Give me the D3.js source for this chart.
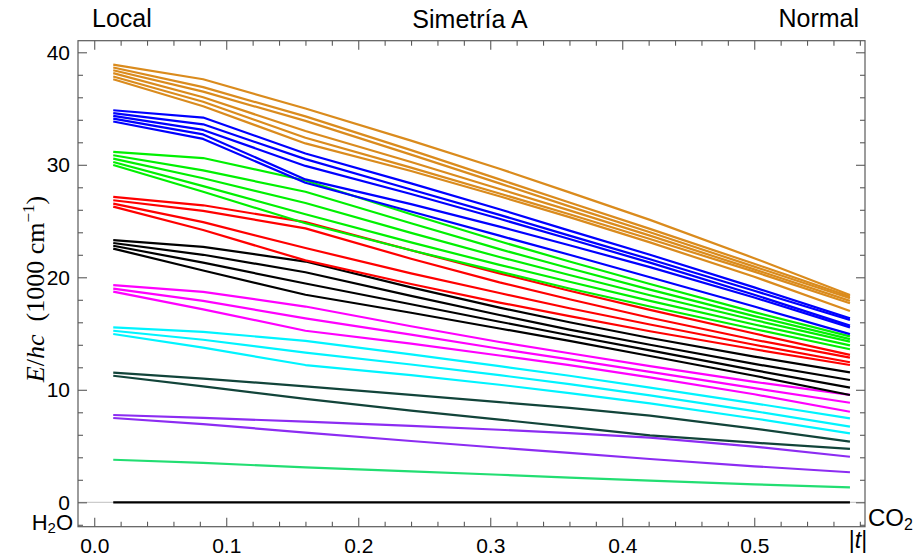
<!DOCTYPE html>
<html><head><meta charset="utf-8">
<script src="https://cdn.jsdelivr.net/npm/d3@7"></script>
<style>body{margin:0;background:#fff} svg{display:block;font-family:"Liberation Sans",Arial,sans-serif}</style>
</head><body><svg id="c" width="919" height="559"></svg>
<script>
// |t| sample positions
const tValues = [0.0144, 0.0825, 0.16, 0.24, 0.307, 0.36, 0.421, 0.5, 0.5725];
const xMajorTicks = [0, 0.1, 0.2, 0.3, 0.4, 0.5];
const xMinorTicks = [0.02,0.04,0.06,0.08,0.12,0.14,0.16,0.18,0.22,0.24,0.26,0.28,0.32,0.34,0.36,0.38,0.42,0.44,0.46,0.48,0.52,0.54,0.56,0.58];
const yMajorTicks = [0, 10, 20, 30, 40];
const yMinorTicks = [-2,2,4,6,8,12,14,16,18,22,24,26,28,32,34,36,38];

// E/hc (1000 cm^-1) levels, one row per level
const zeroLevels = [[0,0,0,0,0,0,0,0,0]];
const springLevels = [[3.78, 3.5, 3.1, 2.75, 2.45, 2.2, 1.92, 1.6, 1.33]];
const purpleLevels = [
  [7.76, 7.5, 7.17, 6.8, 6.45, 6.15, 5.75, 4.95, 4.05],
  [7.49, 6.95, 6.2, 5.45, 4.85, 4.4, 3.85, 3.2, 2.67]];
const darkGreenLevels = [
  [11.52, 11.0, 10.3, 9.55, 8.9, 8.4, 7.7, 6.55, 5.39],
  [11.25, 10.3, 9.2, 8.15, 7.35, 6.7, 5.95, 5.3, 4.74]];
const cyanLevels = [
  [15.55, 15.15, 14.35, 13.15, 12.1, 11.25, 10.2, 8.8, 7.46],
  [15.25, 14.45, 13.3, 12.25, 11.3, 10.5, 9.5, 8.1, 6.72],
  [14.96, 13.75, 12.2, 11.3, 10.45, 9.7, 8.8, 7.45, 6.13]];
const magentaLevels = [
  [19.3, 18.7, 17.4, 15.65, 14.25, 13.25, 12.1, 10.7, 9.54],
  [19.0, 17.9, 16.35, 14.9, 13.65, 12.7, 11.6, 10.15, 8.85],
  [18.72, 17.15, 15.25, 14.1, 13.05, 12.2, 11.1, 9.6, 8.05]];
const blackLevels = [
  [23.3, 22.7, 21.4, 19.1, 17.3, 16.0, 14.6, 12.95, 11.55],
  [23.05, 22.0, 20.45, 18.35, 16.65, 15.35, 14.0, 12.3, 10.87],
  [22.8, 21.3, 19.45, 17.6, 16.05, 14.85, 13.5, 11.75, 10.19],
  [22.55, 20.6, 18.45, 16.85, 15.45, 14.35, 13.0, 11.25, 9.54]];
const redLevels = [
  [27.15, 26.4, 24.9, 22.4, 20.35, 18.8, 17.1, 15.0, 13.1],
  [26.85, 25.9, 24.35, 21.65, 19.55, 18.05, 16.4, 14.45, 12.86],
  [26.55, 24.9, 22.6, 20.35, 18.6, 17.25, 15.8, 14.0, 12.45],
  [26.28, 24.2, 21.5, 19.4, 17.75, 16.55, 15.2, 13.6, 12.2]];
const greenLevels = [
  [31.15, 30.6, 28.6, 25.6, 23.2, 21.4, 19.4, 16.9, 14.75],
  [30.85, 29.5, 27.6, 24.8, 22.5, 20.8, 18.9, 16.55, 14.5],
  [30.55, 28.8, 26.6, 23.95, 21.8, 20.2, 18.4, 16.2, 14.28],
  [30.25, 28.1, 25.6, 23.1, 21.1, 19.6, 17.9, 15.8, 13.95],
  [29.98, 27.6, 24.8, 22.4, 20.5, 19.0, 17.4, 15.4, 13.6]];
const blueLevels = [
  [34.85, 34.2, 31.0, 28.35, 26.05, 24.15, 22.0, 19.1, 16.35],
  [34.6, 33.6, 30.5, 27.8, 25.55, 23.7, 21.6, 18.8, 16.2],
  [34.35, 33.1, 29.9, 27.4, 25.2, 23.4, 21.3, 18.45, 15.7],
  [34.1, 32.7, 28.7, 26.5, 24.5, 22.85, 20.9, 18.2, 15.55],
  [33.85, 32.3, 28.4, 25.85, 23.7, 22.0, 20.0, 17.4, 14.95]];
const orangeLevels = [
  [38.9, 37.6, 35.0, 32.15, 29.65, 27.55, 25.1, 21.7, 18.43],
  [38.65, 36.9, 34.3, 31.3, 28.7, 26.65, 24.3, 21.2, 18.28],
  [38.4, 36.5, 33.9, 30.9, 28.35, 26.3, 24.0, 20.95, 18.13],
  [38.15, 36.0, 33.0, 30.25, 27.85, 25.95, 23.7, 20.7, 17.9],
  [37.85, 35.6, 32.4, 29.75, 27.45, 25.6, 23.4, 20.5, 17.69],
  [37.6, 35.2, 31.9, 29.45, 27.2, 25.35, 23.1, 20.05, 17.0]];

const seriesList = [
  {levels: zeroLevels, color: "#000000"},
  {levels: springLevels, color: "#22de72"},
  {levels: purpleLevels, color: "#8c2cf2"},
  {levels: darkGreenLevels, color: "#12443a"},
  {levels: cyanLevels, color: "#00f4ff"},
  {levels: magentaLevels, color: "#ff00ff"},
  {levels: blackLevels, color: "#000000"},
  {levels: redLevels, color: "#ff0000"},
  {levels: greenLevels, color: "#00f000"},
  {levels: blueLevels, color: "#0000ff"},
  {levels: orangeLevels, color: "#da8b1d"}
];

const L = 78, R = 865, T = 40.7, B = 526.7;
const svg = d3.select("#c");
const x = d3.scaleLinear().domain([-0.0123, 0.5839]).range([L, R]);
const y = d3.scaleLinear().domain([-2.17, 41.03]).range([B, T]);
const frameColor = "#5a5a5a";

// light axis line at zero
svg.append("line").attr("x1", L).attr("x2", R).attr("y1", y(0)).attr("y2", y(0))
  .attr("stroke", "#cccccc").attr("stroke-width", 1.2);

const line = d3.line().x((d, i) => x(tValues[i])).y(d => y(d));
seriesList.forEach(s => {
  svg.append("g").selectAll("path").data(s.levels).join("path")
    .attr("d", line).attr("fill", "none").attr("stroke", s.color)
    .attr("stroke-width", 2.2).attr("stroke-linejoin", "round");
});

function styleAxis(g, labels) {
  g.select(".domain").remove();
  g.selectAll(".tick line").attr("stroke", frameColor).attr("stroke-width", 1.1);
  if (!labels) g.selectAll(".tick text").remove();
  else g.selectAll(".tick text").attr("fill", "#000").style("font-size", "21px")
        .style("font-family", '"Liberation Sans", Arial, sans-serif');
}
// bottom
svg.append("g").attr("transform", `translate(0,${B})`)
  .call(d3.axisBottom(x).tickValues(xMajorTicks).tickSize(-9).tickPadding(11).tickFormat(d3.format(".1f")))
  .call(g => styleAxis(g, true));
svg.append("g").attr("transform", `translate(0,${B})`)
  .call(d3.axisBottom(x).tickValues(xMinorTicks).tickSize(-5)).call(g => styleAxis(g, false));
// top
svg.append("g").attr("transform", `translate(0,${T})`)
  .call(d3.axisTop(x).tickValues(xMajorTicks).tickSize(-9)).call(g => styleAxis(g, false));
svg.append("g").attr("transform", `translate(0,${T})`)
  .call(d3.axisTop(x).tickValues(xMinorTicks).tickSize(-5)).call(g => styleAxis(g, false));
// left
svg.append("g").attr("transform", `translate(${L},0)`)
  .call(d3.axisLeft(y).tickValues(yMajorTicks).tickSize(-9).tickPadding(8).tickFormat(d3.format("d")))
  .call(g => styleAxis(g, true));
svg.append("g").attr("transform", `translate(${L},0)`)
  .call(d3.axisLeft(y).tickValues(yMinorTicks).tickSize(-5)).call(g => styleAxis(g, false));
// right
svg.append("g").attr("transform", `translate(${R},0)`)
  .call(d3.axisRight(y).tickValues(yMajorTicks).tickSize(-9)).call(g => styleAxis(g, false));
svg.append("g").attr("transform", `translate(${R},0)`)
  .call(d3.axisRight(y).tickValues(yMinorTicks).tickSize(-5)).call(g => styleAxis(g, false));

// frame
svg.append("rect").attr("x", L).attr("y", T).attr("width", R - L).attr("height", B - T)
  .attr("fill", "none").attr("stroke", frameColor).attr("stroke-width", 1.2);

// titles
const tf = '"Liberation Sans", Arial, sans-serif';
svg.append("text").attr("x", 92).attr("y", 27).style("font-size", "25px").style("font-family", tf).text("Local");
svg.append("text").attr("x", 470).attr("y", 28).attr("text-anchor", "middle").style("font-size", "25px").style("font-family", tf).text("Simetría A");
svg.append("text").attr("x", 859).attr("y", 27).attr("text-anchor", "end").style("font-size", "25px").style("font-family", tf).text("Normal");

// H2O
const h2o = svg.append("text").attr("x", 73).attr("y", 530).attr("text-anchor", "end").style("font-size", "22px").style("font-family", tf);
h2o.append("tspan").text("H");
h2o.append("tspan").attr("dy", 3).style("font-size", "15px").text("2");
h2o.append("tspan").attr("dy", -3).text("O");
// CO2
const co2 = svg.append("text").attr("x", 868).attr("y", 526).style("font-size", "24px").style("font-family", tf);
co2.append("tspan").text("CO");
co2.append("tspan").attr("dy", 4).style("font-size", "16px").text("2");
// |t|
const tl = svg.append("text").attr("x", 858).attr("y", 548).attr("text-anchor", "middle").style("font-size", "23px").style("font-family", tf);
tl.append("tspan").text("|");
tl.append("tspan").style("font-style", "italic").text("t");
tl.append("tspan").text("|");

// y label
const yl = svg.append("text").attr("transform", "translate(44,289) rotate(-90)").attr("text-anchor", "middle")
  .style("font-size", "26px").style("font-family", '"Liberation Serif", "Times New Roman", serif').attr("xml:space", "preserve");
yl.append("tspan").style("font-style", "italic").text("E");
yl.append("tspan").text("/");
yl.append("tspan").style("font-style", "italic").text("hc");
yl.append("tspan").text("  (1000 cm");
yl.append("tspan").attr("dy", -10).style("font-size", "17px").text("−1");
yl.append("tspan").attr("dy", 10).text(")");
</script></body></html>
